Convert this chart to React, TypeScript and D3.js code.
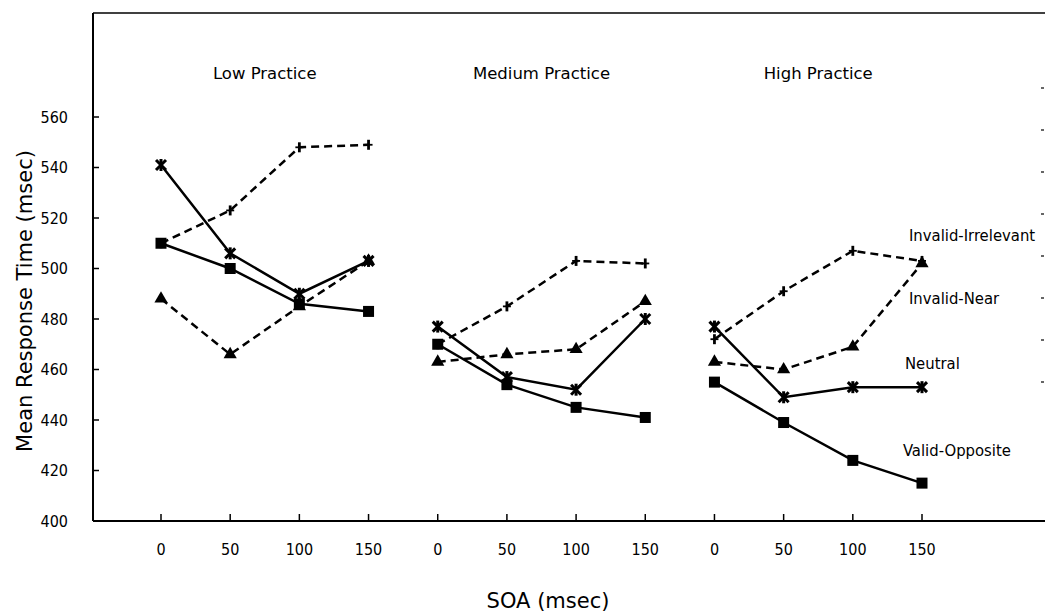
import React from "react";
import * as d3 from "d3";

// SOA levels within each practice panel
const soaLevels = [0, 50, 100, 150];
const panelTitles = ["Low Practice", "Medium Practice", "High Practice"];
const yTicks = [400, 420, 440, 460, 480, 500, 520, 540, 560];

// mean RT per panel (low, medium, high), per SOA
const invalidIrrelevant = [
  [510, 523, 548, 549],
  [470, 485, 503, 502],
  [472, 491, 507, 503],
];
const invalidNear = [
  [488, 466, 485, 503],
  [463, 466, 468, 487],
  [463, 460, 469, 502],
];
const neutral = [
  [541, 506, 490, 503],
  [477, 457, 452, 480],
  [477, 449, 453, 453],
];
const validOpposite = [
  [510, 500, 486, 483],
  [470, 454, 445, 441],
  [455, 439, 424, 415],
];

const labels = [
  { text: "Invalid-Irrelevant", x: 909, y: 235 },
  { text: "Invalid-Near", x: 909, y: 298 },
  { text: "Neutral", x: 905, y: 363 },
  { text: "Valid-Opposite", x: 903, y: 450 },
];

const W = 1045;
const H = 616;
const left = 93;
const right = 1045;
const top = 13;
const bottom = 521;
const font = "'DejaVu Sans Condensed', 'Liberation Sans Narrow', sans-serif";
const bigFont = "'DejaVu Sans', sans-serif";

const x = d3.scaleLinear().domain([0, 11]).range([161, 922]);
const y = d3.scaleLinear().domain([400, 560]).range([bottom, 117]);

type Marker = "plus" | "tri" | "star" | "square";

const series: { data: number[][]; dashed: boolean; marker: Marker }[] = [
  { data: invalidIrrelevant, dashed: true, marker: "plus" },
  { data: invalidNear, dashed: true, marker: "tri" },
  { data: neutral, dashed: false, marker: "star" },
  { data: validOpposite, dashed: false, marker: "square" },
];

const line = d3
  .line<[number, number]>()
  .x((d) => d[0])
  .y((d) => d[1]);

function MarkerShape({ kind, cx, cy }: { kind: Marker; cx: number; cy: number }) {
  if (kind === "square") {
    return <rect x={cx - 5.5} y={cy - 5.5} width={11} height={11} fill="#000" />;
  }
  if (kind === "tri") {
    const tri = d3.symbol().type(d3.symbolTriangle).size(75)();
    return <path d={tri || ""} transform={`translate(${cx},${cy})`} fill="#000" />;
  }
  if (kind === "star") {
    return (
      <g stroke="#000" strokeWidth={3} transform={`translate(${cx},${cy})`}>
        <line x1={-5} y1={-5} x2={5} y2={5} />
        <line x1={-5} y1={5} x2={5} y2={-5} />
        <line x1={0} y1={-6} x2={0} y2={6} />
      </g>
    );
  }
  return (
    <g stroke="#000" transform={`translate(${cx},${cy})`}>
      <line x1={0} y1={-5} x2={0} y2={5} strokeWidth={2.8} />
      <line x1={-4} y1={0} x2={4} y2={0} strokeWidth={1.8} />
    </g>
  );
}

export default function App() {
  return (
    <div style={{ position: "fixed", left: 0, top: 0 }}>
      <svg width={W} height={H} style={{ display: "block", background: "#fff" }}>
        <rect width={W} height={H} fill="#fff" />
        {/* frame */}
        <line x1={left} y1={top} x2={right} y2={top} stroke="#000" strokeWidth={1.6} />
        <line x1={left} y1={top} x2={left} y2={bottom} stroke="#000" strokeWidth={2} />
        <line x1={left} y1={bottom} x2={right} y2={bottom} stroke="#000" strokeWidth={2.2} />

        {/* y ticks */}
        {yTicks.map((t) => (
          <g key={t}>
            <line x1={left} x2={left + 6} y1={y(t)} y2={y(t)} stroke="#000" strokeWidth={1.5} />
            <text
              x={left - 25}
              y={y(t)}
              textAnchor="end"
              dominantBaseline="central"
              fontFamily={font}
              fontSize={16}
            >
              {t}
            </text>
          </g>
        ))}
        {/* faint right ticks */}
        {d3.range(8).map((i) => (
          <line key={i} x1={1041} x2={1044} y1={88 + i * 42} y2={88 + i * 42} stroke="#000" strokeWidth={1.2} />
        ))}

        {/* x ticks */}
        {panelTitles.map((_, p) =>
          soaLevels.map((s, i) => {
            const xi = x(p * 4 + i);
            return (
              <g key={`${p}-${i}`}>
                <line x1={xi} x2={xi} y1={bottom} y2={bottom - 7} stroke="#000" strokeWidth={1.5} />
                <text x={xi} y={549} textAnchor="middle" dominantBaseline="central" fontFamily={font} fontSize={16}>
                  {s}
                </text>
              </g>
            );
          })
        )}

        {/* panel titles */}
        {panelTitles.map((t, p) => (
          <text
            key={t}
            x={(x(p * 4) + x(p * 4 + 3)) / 2}
            y={73}
            textAnchor="middle"
            dominantBaseline="central"
            fontFamily={bigFont}
            fontSize={16.5}
          >
            {t}
          </text>
        ))}

        {/* series */}
        {series.map((s, si) =>
          s.data.map((vals, p) => {
            const pts: [number, number][] = vals.map((v, i) => [x(p * 4 + i), y(v)]);
            return (
              <g key={`${si}-${p}`}>
                <path
                  d={line(pts) || ""}
                  fill="none"
                  stroke="#000"
                  strokeWidth={2.5}
                  strokeDasharray={s.dashed ? "8,5" : undefined}
                />
                {pts.map((pt, i) => (
                  <MarkerShape key={i} kind={s.marker} cx={pt[0]} cy={pt[1]} />
                ))}
              </g>
            );
          })
        )}

        {/* line labels */}
        {labels.map((l) => (
          <text key={l.text} x={l.x} y={l.y} dominantBaseline="central" fontFamily={font} fontSize={16.5}>
            {l.text}
          </text>
        ))}

        {/* axis titles */}
        <text
          transform={`translate(25,301) rotate(-90)`}
          textAnchor="middle"
          dominantBaseline="central"
          fontFamily={bigFont}
          fontSize={21}
        >
          Mean Response Time (msec)
        </text>
        <text x={548} y={601} textAnchor="middle" dominantBaseline="central" fontFamily={bigFont} fontSize={21}>
          SOA (msec)
        </text>
      </svg>
    </div>
  );
}
